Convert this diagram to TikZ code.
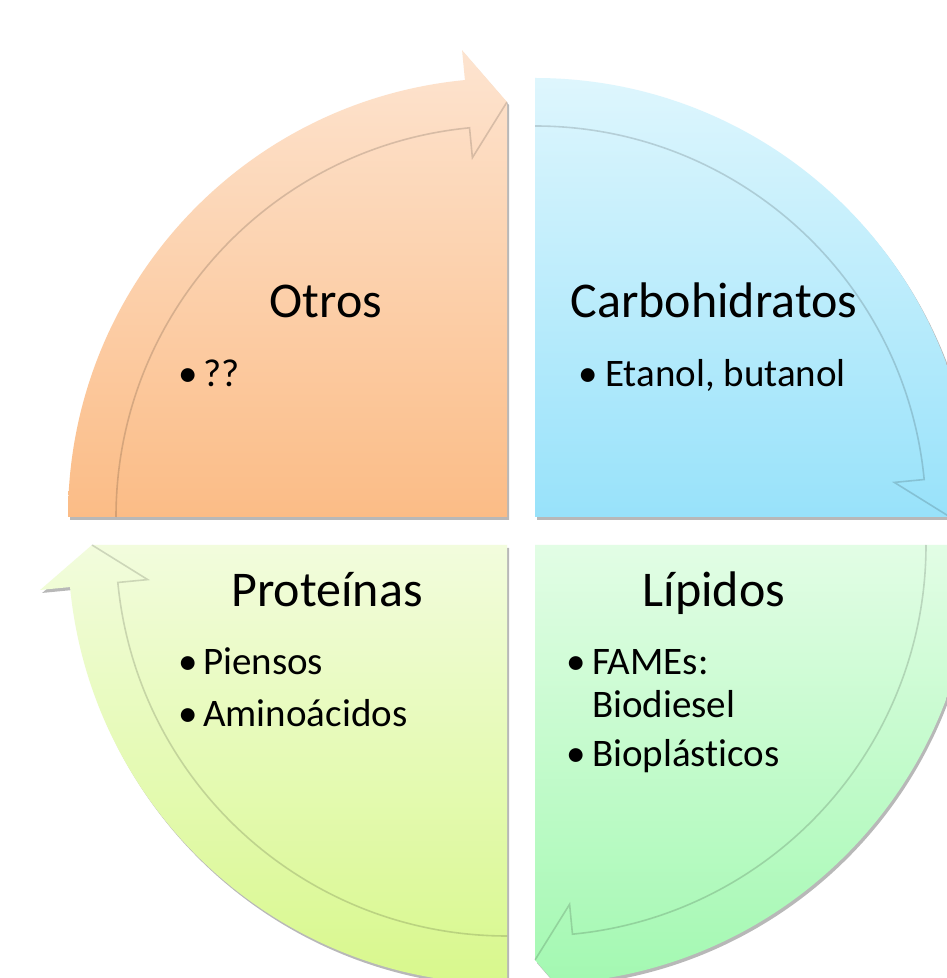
\documentclass[tikz,border=0pt]{standalone}
\usepackage{fontspec}
\setmainfont{Carlito}[Ligatures={NoCommon}]
\usetikzlibrary{calc,shadows}
\definecolor{tlTop}{HTML}{FDE4D0}
\definecolor{tlBot}{HTML}{FBBC86}
\definecolor{trTop}{HTML}{DEF6FD}
\definecolor{trBot}{HTML}{98E2FA}
\definecolor{blTop}{HTML}{F2FCDD}
\definecolor{blBot}{HTML}{D8F88C}
\definecolor{brTop}{HTML}{E2FDE5}
\definecolor{brBot}{HTML}{9FF8AE}
\tikzset{
  quadfill/.style={drop shadow={shadow xshift=2pt,shadow yshift=-3pt,opacity=0.28,fill=black}},
  innerline/.style={draw=black,opacity=0.15,line width=1.6pt},
  titletext/.style={anchor=base,inner sep=0pt,font=\fontsize{50}{60}\selectfont},
  bullettext/.style={anchor=base west,inner sep=0pt,font=\fontsize{39}{47}\selectfont},
  bulletmark/.style={anchor=base,inner sep=0pt,font=\fontsize{39}{47}\selectfont}
}
\newcommand{\quadshape}[4]{%
  \pgfmathsetmacro\aone{#2-84.5}%
  \pgfmathsetmacro\atip{#2-90}%
  \path[quadfill,top color=#3,bottom color=#4] (#1) -- ($(#1)+(#2:439)$)
     arc[start angle=#2,end angle=\aone,radius=439pt]
     -- ($(#1)+(\aone:469)$) -- ($(#1)+(\atip:415)$) -- cycle;
  \draw[innerline] ($(#1)+(#2:391)$)
     arc[start angle=#2,end angle=\aone,radius=391pt]
     -- ($(#1)+(\aone:361)$) -- ($(#1)+(\atip:415)$);
}
\begin{document}
\begin{tikzpicture}[x=1pt,y=1pt]
\useasboundingbox (0,0) rectangle (947,978);
\fill[white] (0,0) rectangle (947,978);
\coordinate (ctl) at (507,461);
\coordinate (ctr) at (535,461);
\coordinate (cbl) at (507,433);
\coordinate (cbr) at (535,433);
\quadshape{ctl}{180}{tlTop}{tlBot}
\quadshape{ctr}{90}{trTop}{trBot}
\quadshape{cbr}{0}{brTop}{brBot}
\quadshape{cbl}{-90}{blTop}{blBot}
% titles
\node[titletext] (otros) at (326,660) {Otros};
\node[titletext] (carb) at (714,660) {Carbohidratos};
\node[titletext] (prot) at (327,371) {Proteínas};
\node[titletext] (lip) at (714,371) {Lípidos};
% bullets
\node[bulletmark] (b1) at (188,591) {•};
\node[bullettext] (t1) at (203,591) {??};
\node[bulletmark] (b2) at (588,591) {•};
\node[bullettext] (t2) at (605,591) {Etanol, butanol};
\node[bulletmark] (b3) at (188,303) {•};
\node[bullettext] (t3) at (203,303) {Piensos};
\node[bulletmark] (b4) at (188,251) {•};
\node[bullettext] (t4) at (203,251) {Aminoácidos};
\node[bulletmark] (b5) at (576,303) {•};
\node[bullettext] (t5) at (592,303) {FAMEs:};
\node[bullettext] (t6) at (592,260) {Biodiesel};
\node[bulletmark] (b7) at (576,211) {•};
\node[bullettext] (t7) at (592,211) {Bioplást\kern0pt icos};
\end{tikzpicture}
\end{document}
